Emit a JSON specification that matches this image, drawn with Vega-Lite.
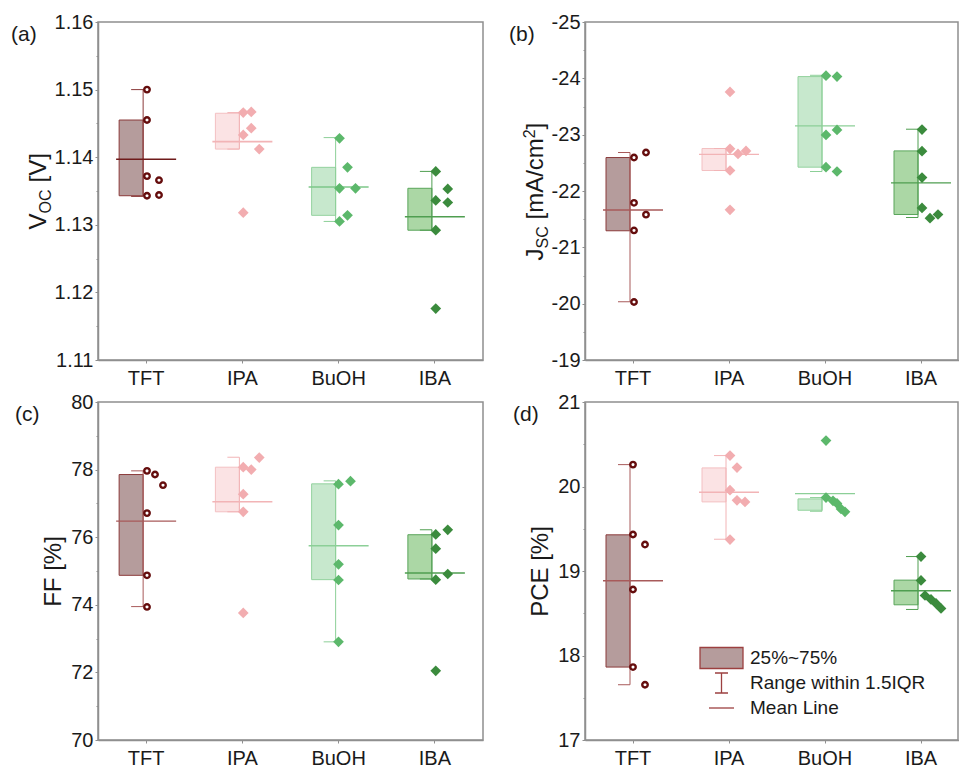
{
  "$schema": "https://vega.github.io/schema/vega-lite/v6.json",
  "padding": {"left": 10, "top": 11, "right": 0, "bottom": 0},
  "columns": 2,
  "spacing": {"row": 42, "column": 102},
  "bounds": "flush",
  "align": "all",
  "resolve": {"legend": {"shape": "independent"}},
  "datasets": {
    "stats": [
      {"panel": "a", "solvent": "TFT", "box_lo": 1.1343, "box_hi": 1.1455, "whisk_lo": 1.1342, "whisk_hi": 1.1500, "mean": 1.1397},
      {"panel": "a", "solvent": "IPA", "box_lo": 1.1412, "box_hi": 1.1465, "whisk_lo": 1.1412, "whisk_hi": 1.1466, "mean": 1.1423},
      {"panel": "a", "solvent": "BuOH", "box_lo": 1.1314, "box_hi": 1.1385, "whisk_lo": 1.1305, "whisk_hi": 1.1429, "mean": 1.1356},
      {"panel": "a", "solvent": "IBA", "box_lo": 1.1292, "box_hi": 1.1354, "whisk_lo": 1.1292, "whisk_hi": 1.1379, "mean": 1.1312},
      {"panel": "b", "solvent": "TFT", "box_lo": -22.594, "box_hi": -21.294, "whisk_lo": -22.683, "whisk_hi": -20.034, "mean": -21.663},
      {"panel": "b", "solvent": "IPA", "box_lo": -22.754, "box_hi": -22.364, "whisk_lo": -22.754, "whisk_hi": -22.364, "mean": -22.651},
      {"panel": "b", "solvent": "BuOH", "box_lo": -24.031, "box_hi": -22.423, "whisk_lo": -24.054, "whisk_hi": -22.346, "mean": -23.156},
      {"panel": "b", "solvent": "IBA", "box_lo": -22.712, "box_hi": -21.583, "whisk_lo": -23.097, "whisk_hi": -21.530, "mean": -22.145},
      {"panel": "c", "solvent": "TFT", "box_lo": 74.872, "box_hi": 77.854, "whisk_lo": 73.947, "whisk_hi": 77.963, "mean": 76.476},
      {"panel": "c", "solvent": "IPA", "box_lo": 76.752, "box_hi": 78.071, "whisk_lo": 76.752, "whisk_hi": 78.366, "mean": 77.047},
      {"panel": "c", "solvent": "BuOH", "box_lo": 74.744, "box_hi": 77.579, "whisk_lo": 72.904, "whisk_hi": 77.667, "mean": 75.748},
      {"panel": "c", "solvent": "IBA", "box_lo": 74.764, "box_hi": 76.073, "whisk_lo": 74.764, "whisk_hi": 76.220, "mean": 74.941},
      {"panel": "d", "solvent": "TFT", "box_lo": 17.863, "box_hi": 19.428, "whisk_lo": 17.654, "whisk_hi": 20.259, "mean": 18.884},
      {"panel": "d", "solvent": "IPA", "box_lo": 19.818, "box_hi": 20.220, "whisk_lo": 19.376, "whisk_hi": 20.366, "mean": 19.932},
      {"panel": "d", "solvent": "BuOH", "box_lo": 19.719, "box_hi": 19.853, "whisk_lo": 19.707, "whisk_hi": 19.869, "mean": 19.916},
      {"panel": "d", "solvent": "IBA", "box_lo": 18.600, "box_hi": 18.892, "whisk_lo": 18.545, "whisk_hi": 19.171, "mean": 18.766}
    ],
    "pts": [
      {"panel": "a", "solvent": "TFT", "value": 1.1500, "jit": 1},
      {"panel": "a", "solvent": "TFT", "value": 1.1455, "jit": 1},
      {"panel": "a", "solvent": "TFT", "value": 1.1372, "jit": 1},
      {"panel": "a", "solvent": "TFT", "value": 1.1366, "jit": 13},
      {"panel": "a", "solvent": "TFT", "value": 1.1343, "jit": 1},
      {"panel": "a", "solvent": "TFT", "value": 1.1344, "jit": 13},
      {"panel": "a", "solvent": "IPA", "value": 1.1466, "jit": 1},
      {"panel": "a", "solvent": "IPA", "value": 1.1467, "jit": 9},
      {"panel": "a", "solvent": "IPA", "value": 1.1443, "jit": 9},
      {"panel": "a", "solvent": "IPA", "value": 1.1433, "jit": 1},
      {"panel": "a", "solvent": "IPA", "value": 1.1412, "jit": 17},
      {"panel": "a", "solvent": "IPA", "value": 1.1318, "jit": 1},
      {"panel": "a", "solvent": "BuOH", "value": 1.1428, "jit": 1},
      {"panel": "a", "solvent": "BuOH", "value": 1.1385, "jit": 9},
      {"panel": "a", "solvent": "BuOH", "value": 1.1354, "jit": 1},
      {"panel": "a", "solvent": "BuOH", "value": 1.1354, "jit": 17},
      {"panel": "a", "solvent": "BuOH", "value": 1.1314, "jit": 9},
      {"panel": "a", "solvent": "BuOH", "value": 1.1305, "jit": 1},
      {"panel": "a", "solvent": "IBA", "value": 1.1379, "jit": 1},
      {"panel": "a", "solvent": "IBA", "value": 1.1353, "jit": 13},
      {"panel": "a", "solvent": "IBA", "value": 1.1336, "jit": 1},
      {"panel": "a", "solvent": "IBA", "value": 1.1333, "jit": 13},
      {"panel": "a", "solvent": "IBA", "value": 1.1292, "jit": 1},
      {"panel": "a", "solvent": "IBA", "value": 1.1176, "jit": 1},
      {"panel": "b", "solvent": "TFT", "value": -22.594, "jit": 1},
      {"panel": "b", "solvent": "TFT", "value": -22.683, "jit": 13},
      {"panel": "b", "solvent": "TFT", "value": -21.79, "jit": 1},
      {"panel": "b", "solvent": "TFT", "value": -21.58, "jit": 13},
      {"panel": "b", "solvent": "TFT", "value": -21.30, "jit": 1},
      {"panel": "b", "solvent": "TFT", "value": -20.03, "jit": 1},
      {"panel": "b", "solvent": "IPA", "value": -23.759, "jit": 1},
      {"panel": "b", "solvent": "IPA", "value": -22.748, "jit": 1},
      {"panel": "b", "solvent": "IPA", "value": -22.659, "jit": 9},
      {"panel": "b", "solvent": "IPA", "value": -22.712, "jit": 17},
      {"panel": "b", "solvent": "IPA", "value": -22.364, "jit": 1},
      {"panel": "b", "solvent": "IPA", "value": -21.666, "jit": 1},
      {"panel": "b", "solvent": "BuOH", "value": -24.048, "jit": 1},
      {"panel": "b", "solvent": "BuOH", "value": -24.031, "jit": 12},
      {"panel": "b", "solvent": "BuOH", "value": -22.996, "jit": 1},
      {"panel": "b", "solvent": "BuOH", "value": -23.085, "jit": 12},
      {"panel": "b", "solvent": "BuOH", "value": -22.423, "jit": 1},
      {"panel": "b", "solvent": "BuOH", "value": -22.346, "jit": 12},
      {"panel": "b", "solvent": "IBA", "value": -23.091, "jit": 1},
      {"panel": "b", "solvent": "IBA", "value": -22.706, "jit": 1},
      {"panel": "b", "solvent": "IBA", "value": -22.239, "jit": 1},
      {"panel": "b", "solvent": "IBA", "value": -21.70, "jit": 1},
      {"panel": "b", "solvent": "IBA", "value": -21.518, "jit": 9},
      {"panel": "b", "solvent": "IBA", "value": -21.583, "jit": 17},
      {"panel": "c", "solvent": "TFT", "value": 77.963, "jit": 1},
      {"panel": "c", "solvent": "TFT", "value": 77.854, "jit": 9},
      {"panel": "c", "solvent": "TFT", "value": 77.539, "jit": 17},
      {"panel": "c", "solvent": "TFT", "value": 76.713, "jit": 1},
      {"panel": "c", "solvent": "TFT", "value": 74.872, "jit": 1},
      {"panel": "c", "solvent": "TFT", "value": 73.937, "jit": 1},
      {"panel": "c", "solvent": "IPA", "value": 78.071, "jit": 1},
      {"panel": "c", "solvent": "IPA", "value": 78.002, "jit": 9},
      {"panel": "c", "solvent": "IPA", "value": 78.356, "jit": 17},
      {"panel": "c", "solvent": "IPA", "value": 77.274, "jit": 1},
      {"panel": "c", "solvent": "IPA", "value": 76.752, "jit": 1},
      {"panel": "c", "solvent": "IPA", "value": 73.76, "jit": 1},
      {"panel": "c", "solvent": "BuOH", "value": 77.569, "jit": 0},
      {"panel": "c", "solvent": "BuOH", "value": 77.657, "jit": 12},
      {"panel": "c", "solvent": "BuOH", "value": 76.358, "jit": 0},
      {"panel": "c", "solvent": "BuOH", "value": 75.197, "jit": 0},
      {"panel": "c", "solvent": "BuOH", "value": 74.734, "jit": 0},
      {"panel": "c", "solvent": "BuOH", "value": 72.904, "jit": 0},
      {"panel": "c", "solvent": "IBA", "value": 76.083, "jit": 1},
      {"panel": "c", "solvent": "IBA", "value": 76.22, "jit": 13},
      {"panel": "c", "solvent": "IBA", "value": 75.659, "jit": 1},
      {"panel": "c", "solvent": "IBA", "value": 74.911, "jit": 13},
      {"panel": "c", "solvent": "IBA", "value": 74.744, "jit": 1},
      {"panel": "c", "solvent": "IBA", "value": 72.047, "jit": 1},
      {"panel": "d", "solvent": "TFT", "value": 20.259, "jit": 0},
      {"panel": "d", "solvent": "TFT", "value": 19.432, "jit": 0},
      {"panel": "d", "solvent": "TFT", "value": 19.313, "jit": 12},
      {"panel": "d", "solvent": "TFT", "value": 18.781, "jit": 0},
      {"panel": "d", "solvent": "TFT", "value": 17.863, "jit": 0},
      {"panel": "d", "solvent": "TFT", "value": 17.654, "jit": 12},
      {"panel": "d", "solvent": "IPA", "value": 20.366, "jit": 1},
      {"panel": "d", "solvent": "IPA", "value": 20.224, "jit": 8},
      {"panel": "d", "solvent": "IPA", "value": 19.956, "jit": 1},
      {"panel": "d", "solvent": "IPA", "value": 19.837, "jit": 8},
      {"panel": "d", "solvent": "IPA", "value": 19.818, "jit": 16},
      {"panel": "d", "solvent": "IPA", "value": 19.372, "jit": 1},
      {"panel": "d", "solvent": "BuOH", "value": 20.543, "jit": 1},
      {"panel": "d", "solvent": "BuOH", "value": 19.869, "jit": 1},
      {"panel": "d", "solvent": "BuOH", "value": 19.83, "jit": 8},
      {"panel": "d", "solvent": "BuOH", "value": 19.80, "jit": 12},
      {"panel": "d", "solvent": "BuOH", "value": 19.735, "jit": 16},
      {"panel": "d", "solvent": "BuOH", "value": 19.70, "jit": 20},
      {"panel": "d", "solvent": "IBA", "value": 19.171, "jit": 0},
      {"panel": "d", "solvent": "IBA", "value": 18.888, "jit": 0},
      {"panel": "d", "solvent": "IBA", "value": 18.710, "jit": 4},
      {"panel": "d", "solvent": "IBA", "value": 18.663, "jit": 10},
      {"panel": "d", "solvent": "IBA", "value": 18.616, "jit": 15},
      {"panel": "d", "solvent": "IBA", "value": 18.557, "jit": 20}
    ],
    "legend": [
      {"item": "25%~75%"},
      {"item": "Range within 1.5IQR"},
      {"item": "Mean Line"}
    ]
  },
  "concat": [
    {
      "width": 385, "height": 338,
      "title": {"text": "(a)", "dx": -87},
      "resolve": {"scale": {"color": "independent"}, "axis": {"y": "independent"}},
      "layer": [
        {
          "data": {"name": "stats"}, "transform": [{"filter": "datum.panel === 'a'"}],
          "mark": {"type": "bar", "width": 24, "xOffset": -15, "strokeWidth": 1},
          "encoding": {
            "x": {"field": "solvent", "type": "nominal", "scale": {"type": "band", "domain": ["TFT", "IPA", "BuOH", "IBA"], "paddingInner": 0, "paddingOuter": 0}, "axis": {"title": null, "labelAngle": 0, "tickSize": 3, "labelPadding": 5}},
            "y": {"field": "box_lo", "type": "quantitative", "scale": {"domain": [1.11, 1.16], "nice": false, "zero": false},
              "axis": {"orient": "left", "title": "V", "titleX": -53, "titleY": 207, "titleAlign": "left", "titleBaseline": "alphabetic", "titleAngle": 270,
                "values": [1.11, 1.115, 1.12, 1.125, 1.13, 1.135, 1.14, 1.145, 1.15, 1.155, 1.16],
                "labelExpr": "abs(datum.value*100 - round(datum.value*100)) > 0.1 ? '' : format(datum.value, '.2f')",
                "tickSize": {"condition": {"test": "abs(datum.value*100 - round(datum.value*100)) > 0.1", "value": 2}, "value": 3},
                "labelPadding": 2}},
            "y2": {"field": "box_hi"},
            "color": {"field": "solvent", "type": "nominal", "scale": {"domain": ["TFT", "IPA", "BuOH", "IBA"], "range": ["#b59c9c", "#fbe3e4", "#c7e8cd", "#abd7a5"]}, "legend": null},
            "stroke": {"field": "solvent", "type": "nominal", "scale": {"domain": ["TFT", "IPA", "BuOH", "IBA"], "range": ["#8b3a3a", "#f3c0c2", "#93d29e", "#5aa55b"]}, "legend": null}
          }
        },
        {
          "data": {"name": "stats"}, "transform": [{"filter": "datum.panel === 'a'"}],
          "mark": {"type": "rule", "xOffset": -3, "strokeWidth": 1},
          "encoding": {
            "x": {"field": "solvent", "type": "nominal", "scale": {"type": "band", "domain": ["TFT", "IPA", "BuOH", "IBA"], "paddingInner": 0, "paddingOuter": 0}, "axis": {"title": null, "labelAngle": 0, "tickSize": 3, "labelPadding": 5}},
            "y": {"field": "whisk_lo", "type": "quantitative", "scale": {"domain": [1.11, 1.16], "nice": false, "zero": false},
              "axis": {"orient": "left", "labels": false, "ticks": false, "domain": false, "grid": false, "title": "OC", "titleFontSize": 16, "titleX": -48, "titleY": 191, "titleAlign": "left", "titleBaseline": "alphabetic", "titleAngle": 270}},
            "y2": {"field": "whisk_hi"},
            "color": {"field": "solvent", "type": "nominal", "scale": {"domain": ["TFT", "IPA", "BuOH", "IBA"], "range": ["#8b3a3a", "#f2b4b6", "#8ccf97", "#4f9e50"]}, "legend": null}
          }
        },
        {
          "data": {"name": "stats"}, "transform": [{"filter": "datum.panel === 'a'"}],
          "mark": {"type": "tick", "size": 12, "thickness": 1, "xOffset": -9, "opacity": 1},
          "encoding": {
            "x": {"field": "solvent", "type": "nominal", "scale": {"type": "band", "domain": ["TFT", "IPA", "BuOH", "IBA"], "paddingInner": 0, "paddingOuter": 0}, "axis": {"title": null, "labelAngle": 0, "tickSize": 3, "labelPadding": 5}},
            "y": {"field": "whisk_hi", "type": "quantitative", "scale": {"domain": [1.11, 1.16], "nice": false, "zero": false},
              "axis": {"orient": "left", "labels": false, "ticks": false, "domain": false, "grid": false, "title": "[V]", "titleX": -53, "titleY": 160, "titleAlign": "left", "titleBaseline": "alphabetic", "titleAngle": 270}},
            "color": {"field": "solvent", "type": "nominal", "scale": {"domain": ["TFT", "IPA", "BuOH", "IBA"], "range": ["#8b3a3a", "#f2b4b6", "#8ccf97", "#4f9e50"]}, "legend": null}
          }
        },
        {
          "data": {"name": "stats"}, "transform": [{"filter": "datum.panel === 'a'"}],
          "mark": {"type": "tick", "size": 12, "thickness": 1, "xOffset": -9, "opacity": 1},
          "encoding": {
            "x": {"field": "solvent", "type": "nominal", "scale": {"type": "band", "domain": ["TFT", "IPA", "BuOH", "IBA"], "paddingInner": 0, "paddingOuter": 0}, "axis": {"title": null, "labelAngle": 0, "tickSize": 3, "labelPadding": 5}},
            "y": {"field": "whisk_lo", "type": "quantitative", "scale": {"domain": [1.11, 1.16], "nice": false, "zero": false}, "axis": null},
            "color": {"field": "solvent", "type": "nominal", "scale": {"domain": ["TFT", "IPA", "BuOH", "IBA"], "range": ["#8b3a3a", "#f2b4b6", "#8ccf97", "#4f9e50"]}, "legend": null}
          }
        },
        {
          "data": {"name": "stats"}, "transform": [{"filter": "datum.panel === 'a'"}],
          "mark": {"type": "tick", "size": 60, "thickness": 1.6, "opacity": 1},
          "encoding": {
            "x": {"field": "solvent", "type": "nominal", "scale": {"type": "band", "domain": ["TFT", "IPA", "BuOH", "IBA"], "paddingInner": 0, "paddingOuter": 0}, "axis": {"title": null, "labelAngle": 0, "tickSize": 3, "labelPadding": 5}},
            "y": {"field": "mean", "type": "quantitative", "scale": {"domain": [1.11, 1.16], "nice": false, "zero": false}, "axis": null},
            "color": {"field": "solvent", "type": "nominal", "scale": {"domain": ["TFT", "IPA", "BuOH", "IBA"], "range": ["#6f1b1b", "#f2b4b6", "#7cc788", "#4f9e50"]}, "legend": null}
          }
        },
        {
          "data": {"name": "pts"}, "transform": [{"filter": "datum.panel === 'a' && datum.solvent !== 'TFT'"}],
          "mark": {"type": "point", "shape": "diamond", "filled": true, "size": 115, "opacity": 1},
          "encoding": {
            "x": {"field": "solvent", "type": "nominal", "scale": {"type": "band", "domain": ["TFT", "IPA", "BuOH", "IBA"], "paddingInner": 0, "paddingOuter": 0}, "axis": {"title": null, "labelAngle": 0, "tickSize": 3, "labelPadding": 5}},
            "xOffset": {"field": "jit", "type": "quantitative", "scale": {"domain": [0, 20], "range": [48, 68]}},
            "y": {"field": "value", "type": "quantitative", "scale": {"domain": [1.11, 1.16], "nice": false, "zero": false}, "axis": null},
            "color": {"field": "solvent", "type": "nominal", "scale": {"domain": ["IPA", "BuOH", "IBA"], "range": ["#f2adb0", "#5cb86b", "#3b8b3d"]}, "legend": null}
          }
        },
        {
          "data": {"name": "pts"}, "transform": [{"filter": "datum.panel === 'a' && datum.solvent === 'TFT'"}],
          "mark": {"type": "point", "shape": "circle", "filled": false, "fill": "white", "stroke": "#650d0d", "strokeWidth": 2.4, "size": 30, "opacity": 1},
          "encoding": {
            "x": {"field": "solvent", "type": "nominal", "scale": {"type": "band", "domain": ["TFT", "IPA", "BuOH", "IBA"], "paddingInner": 0, "paddingOuter": 0}, "axis": {"title": null, "labelAngle": 0, "tickSize": 3, "labelPadding": 5}},
            "xOffset": {"field": "jit", "type": "quantitative", "scale": {"domain": [0, 20], "range": [48, 68]}},
            "y": {"field": "value", "type": "quantitative", "scale": {"domain": [1.11, 1.16], "nice": false, "zero": false}, "axis": null}
          }
        }
      ]
    },
    {
      "width": 373, "height": 338,
      "title": {"text": "(b)", "dx": -76},
      "resolve": {"scale": {"color": "independent"}, "axis": {"y": "independent"}},
      "layer": [
        {
          "data": {"name": "stats"}, "transform": [{"filter": "datum.panel === 'b'"}],
          "mark": {"type": "bar", "width": 24, "xOffset": -15, "strokeWidth": 1},
          "encoding": {
            "x": {"field": "solvent", "type": "nominal", "scale": {"type": "band", "domain": ["TFT", "IPA", "BuOH", "IBA"], "paddingInner": 0, "paddingOuter": 0, "range": [0, 384]}, "axis": {"title": null, "labelAngle": 0, "tickSize": 3, "labelPadding": 5}},
            "y": {"field": "box_lo", "type": "quantitative", "scale": {"domain": [-25, -19], "reverse": true, "nice": false, "zero": false},
              "axis": {"orient": "left", "title": "J", "titleX": -43, "titleY": 238, "titleAlign": "left", "titleBaseline": "alphabetic", "titleAngle": 270,
                "values": [-25, -24.5, -24, -23.5, -23, -22.5, -22, -21.5, -21, -20.5, -20, -19.5, -19],
                "labelExpr": "abs(datum.value - round(datum.value)) > 0.1 ? '' : '' + round(datum.value)",
                "tickSize": {"condition": {"test": "abs(datum.value - round(datum.value)) > 0.1", "value": 2}, "value": 3},
                "labelPadding": 2}},
            "y2": {"field": "box_hi"},
            "color": {"field": "solvent", "type": "nominal", "scale": {"domain": ["TFT", "IPA", "BuOH", "IBA"], "range": ["#b59c9c", "#fbe3e4", "#c7e8cd", "#abd7a5"]}, "legend": null},
            "stroke": {"field": "solvent", "type": "nominal", "scale": {"domain": ["TFT", "IPA", "BuOH", "IBA"], "range": ["#8b3a3a", "#f3c0c2", "#93d29e", "#5aa55b"]}, "legend": null}
          }
        },
        {
          "data": {"name": "stats"}, "transform": [{"filter": "datum.panel === 'b'"}],
          "mark": {"type": "rule", "xOffset": -3, "strokeWidth": 1},
          "encoding": {
            "x": {"field": "solvent", "type": "nominal", "scale": {"type": "band", "domain": ["TFT", "IPA", "BuOH", "IBA"], "paddingInner": 0, "paddingOuter": 0, "range": [0, 384]}, "axis": {"title": null, "labelAngle": 0, "tickSize": 3, "labelPadding": 5}},
            "y": {"field": "whisk_lo", "type": "quantitative", "scale": {"domain": [-25, -19], "reverse": true, "nice": false, "zero": false},
              "axis": {"orient": "left", "labels": false, "ticks": false, "domain": false, "grid": false, "title": "SC", "titleFontSize": 16, "titleX": -38, "titleY": 226, "titleAlign": "left", "titleBaseline": "alphabetic", "titleAngle": 270}},
            "y2": {"field": "whisk_hi"},
            "color": {"field": "solvent", "type": "nominal", "scale": {"domain": ["TFT", "IPA", "BuOH", "IBA"], "range": ["#a85a5a", "#f2b4b6", "#8ccf97", "#4f9e50"]}, "legend": null}
          }
        },
        {
          "data": {"name": "stats"}, "transform": [{"filter": "datum.panel === 'b'"}],
          "mark": {"type": "tick", "size": 12, "thickness": 1, "xOffset": -9, "opacity": 1},
          "encoding": {
            "x": {"field": "solvent", "type": "nominal", "scale": {"type": "band", "domain": ["TFT", "IPA", "BuOH", "IBA"], "paddingInner": 0, "paddingOuter": 0, "range": [0, 384]}, "axis": {"title": null, "labelAngle": 0, "tickSize": 3, "labelPadding": 5}},
            "y": {"field": "whisk_hi", "type": "quantitative", "scale": {"domain": [-25, -19], "reverse": true, "nice": false, "zero": false},
              "axis": {"orient": "left", "labels": false, "ticks": false, "domain": false, "grid": false, "title": "[mA/cm", "titleX": -43, "titleY": 197, "titleAlign": "left", "titleBaseline": "alphabetic", "titleAngle": 270}},
            "color": {"field": "solvent", "type": "nominal", "scale": {"domain": ["TFT", "IPA", "BuOH", "IBA"], "range": ["#a85a5a", "#f2b4b6", "#8ccf97", "#4f9e50"]}, "legend": null}
          }
        },
        {
          "data": {"name": "stats"}, "transform": [{"filter": "datum.panel === 'b'"}],
          "mark": {"type": "tick", "size": 12, "thickness": 1, "xOffset": -9, "opacity": 1},
          "encoding": {
            "x": {"field": "solvent", "type": "nominal", "scale": {"type": "band", "domain": ["TFT", "IPA", "BuOH", "IBA"], "paddingInner": 0, "paddingOuter": 0, "range": [0, 384]}, "axis": {"title": null, "labelAngle": 0, "tickSize": 3, "labelPadding": 5}},
            "y": {"field": "whisk_lo", "type": "quantitative", "scale": {"domain": [-25, -19], "reverse": true, "nice": false, "zero": false},
              "axis": {"orient": "left", "labels": false, "ticks": false, "domain": false, "grid": false, "title": "2", "titleFontSize": 16, "titleX": -51, "titleY": 115.8, "titleAlign": "left", "titleBaseline": "alphabetic", "titleAngle": 270}},
            "color": {"field": "solvent", "type": "nominal", "scale": {"domain": ["TFT", "IPA", "BuOH", "IBA"], "range": ["#a85a5a", "#f2b4b6", "#8ccf97", "#4f9e50"]}, "legend": null}
          }
        },
        {
          "data": {"name": "stats"}, "transform": [{"filter": "datum.panel === 'b'"}],
          "mark": {"type": "tick", "size": 60, "thickness": 1.4, "opacity": 1},
          "encoding": {
            "x": {"field": "solvent", "type": "nominal", "scale": {"type": "band", "domain": ["TFT", "IPA", "BuOH", "IBA"], "paddingInner": 0, "paddingOuter": 0, "range": [0, 384]}, "axis": {"title": null, "labelAngle": 0, "tickSize": 3, "labelPadding": 5}},
            "y": {"field": "mean", "type": "quantitative", "scale": {"domain": [-25, -19], "reverse": true, "nice": false, "zero": false},
              "axis": {"orient": "left", "labels": false, "ticks": false, "domain": false, "grid": false, "title": "]", "titleX": -43, "titleY": 106.9, "titleAlign": "left", "titleBaseline": "alphabetic", "titleAngle": 270}},
            "color": {"field": "solvent", "type": "nominal", "scale": {"domain": ["TFT", "IPA", "BuOH", "IBA"], "range": ["#a85a5a", "#f2b4b6", "#8ccf97", "#4f9e50"]}, "legend": null}
          }
        },
        {
          "data": {"name": "pts"}, "transform": [{"filter": "datum.panel === 'b' && datum.solvent !== 'TFT'"}],
          "mark": {"type": "point", "shape": "diamond", "filled": true, "size": 115, "opacity": 1},
          "encoding": {
            "x": {"field": "solvent", "type": "nominal", "scale": {"type": "band", "domain": ["TFT", "IPA", "BuOH", "IBA"], "paddingInner": 0, "paddingOuter": 0, "range": [0, 384]}, "axis": {"title": null, "labelAngle": 0, "tickSize": 3, "labelPadding": 5}},
            "xOffset": {"field": "jit", "type": "quantitative", "scale": {"domain": [0, 20], "range": [48, 68]}},
            "y": {"field": "value", "type": "quantitative", "scale": {"domain": [-25, -19], "reverse": true, "nice": false, "zero": false}, "axis": null},
            "color": {"field": "solvent", "type": "nominal", "scale": {"domain": ["IPA", "BuOH", "IBA"], "range": ["#f2adb0", "#5cb86b", "#3b8b3d"]}, "legend": null}
          }
        },
        {
          "data": {"name": "pts"}, "transform": [{"filter": "datum.panel === 'b' && datum.solvent === 'TFT'"}],
          "mark": {"type": "point", "shape": "circle", "filled": false, "fill": "white", "stroke": "#650d0d", "strokeWidth": 2.4, "size": 30, "opacity": 1},
          "encoding": {
            "x": {"field": "solvent", "type": "nominal", "scale": {"type": "band", "domain": ["TFT", "IPA", "BuOH", "IBA"], "paddingInner": 0, "paddingOuter": 0, "range": [0, 384]}, "axis": {"title": null, "labelAngle": 0, "tickSize": 3, "labelPadding": 5}},
            "xOffset": {"field": "jit", "type": "quantitative", "scale": {"domain": [0, 20], "range": [48, 68]}},
            "y": {"field": "value", "type": "quantitative", "scale": {"domain": [-25, -19], "reverse": true, "nice": false, "zero": false}, "axis": null}
          }
        }
      ]
    },
    {
      "width": 385, "height": 338,
      "title": {"text": "(c)", "dx": -83},
      "resolve": {"scale": {"color": "independent"}, "axis": {"y": "independent"}},
      "layer": [
        {
          "data": {"name": "stats"}, "transform": [{"filter": "datum.panel === 'c'"}],
          "mark": {"type": "bar", "width": 24, "xOffset": -15, "strokeWidth": 1},
          "encoding": {
            "x": {"field": "solvent", "type": "nominal", "scale": {"type": "band", "domain": ["TFT", "IPA", "BuOH", "IBA"], "paddingInner": 0, "paddingOuter": 0}, "axis": {"title": null, "labelAngle": 0, "tickSize": 3, "labelPadding": 5}},
            "y": {"field": "box_lo", "type": "quantitative", "scale": {"domain": [70, 80], "nice": false, "zero": false},
              "axis": {"orient": "left", "title": "FF [%]", "titlePadding": 5,
                "values": [70, 71, 72, 73, 74, 75, 76, 77, 78, 79, 80],
                "labelExpr": "abs(datum.value % 2) > 0.1 ? '' : '' + round(datum.value)",
                "tickSize": {"condition": {"test": "abs(datum.value % 2) > 0.1", "value": 2}, "value": 3},
                "labelPadding": 2}},
            "y2": {"field": "box_hi"},
            "color": {"field": "solvent", "type": "nominal", "scale": {"domain": ["TFT", "IPA", "BuOH", "IBA"], "range": ["#b59c9c", "#fbe3e4", "#c7e8cd", "#abd7a5"]}, "legend": null},
            "stroke": {"field": "solvent", "type": "nominal", "scale": {"domain": ["TFT", "IPA", "BuOH", "IBA"], "range": ["#8b3a3a", "#f3c0c2", "#93d29e", "#5aa55b"]}, "legend": null}
          }
        },
        {
          "data": {"name": "stats"}, "transform": [{"filter": "datum.panel === 'c'"}],
          "mark": {"type": "rule", "xOffset": -3, "strokeWidth": 1},
          "encoding": {
            "x": {"field": "solvent", "type": "nominal", "scale": {"type": "band", "domain": ["TFT", "IPA", "BuOH", "IBA"], "paddingInner": 0, "paddingOuter": 0}, "axis": {"title": null, "labelAngle": 0, "tickSize": 3, "labelPadding": 5}},
            "y": {"field": "whisk_lo", "type": "quantitative", "scale": {"domain": [70, 80], "nice": false, "zero": false}, "axis": null},
            "y2": {"field": "whisk_hi"},
            "color": {"field": "solvent", "type": "nominal", "scale": {"domain": ["TFT", "IPA", "BuOH", "IBA"], "range": ["#a85a5a", "#f2b4b6", "#8ccf97", "#4f9e50"]}, "legend": null}
          }
        },
        {
          "data": {"name": "stats"}, "transform": [{"filter": "datum.panel === 'c'"}],
          "mark": {"type": "tick", "size": 12, "thickness": 1, "xOffset": -9, "opacity": 1},
          "encoding": {
            "x": {"field": "solvent", "type": "nominal", "scale": {"type": "band", "domain": ["TFT", "IPA", "BuOH", "IBA"], "paddingInner": 0, "paddingOuter": 0}, "axis": {"title": null, "labelAngle": 0, "tickSize": 3, "labelPadding": 5}},
            "y": {"field": "whisk_hi", "type": "quantitative", "scale": {"domain": [70, 80], "nice": false, "zero": false}, "axis": null},
            "color": {"field": "solvent", "type": "nominal", "scale": {"domain": ["TFT", "IPA", "BuOH", "IBA"], "range": ["#a85a5a", "#f2b4b6", "#8ccf97", "#4f9e50"]}, "legend": null}
          }
        },
        {
          "data": {"name": "stats"}, "transform": [{"filter": "datum.panel === 'c'"}],
          "mark": {"type": "tick", "size": 12, "thickness": 1, "xOffset": -9, "opacity": 1},
          "encoding": {
            "x": {"field": "solvent", "type": "nominal", "scale": {"type": "band", "domain": ["TFT", "IPA", "BuOH", "IBA"], "paddingInner": 0, "paddingOuter": 0}, "axis": {"title": null, "labelAngle": 0, "tickSize": 3, "labelPadding": 5}},
            "y": {"field": "whisk_lo", "type": "quantitative", "scale": {"domain": [70, 80], "nice": false, "zero": false}, "axis": null},
            "color": {"field": "solvent", "type": "nominal", "scale": {"domain": ["TFT", "IPA", "BuOH", "IBA"], "range": ["#a85a5a", "#f2b4b6", "#8ccf97", "#4f9e50"]}, "legend": null}
          }
        },
        {
          "data": {"name": "stats"}, "transform": [{"filter": "datum.panel === 'c'"}],
          "mark": {"type": "tick", "size": 60, "thickness": 1.4, "opacity": 1},
          "encoding": {
            "x": {"field": "solvent", "type": "nominal", "scale": {"type": "band", "domain": ["TFT", "IPA", "BuOH", "IBA"], "paddingInner": 0, "paddingOuter": 0}, "axis": {"title": null, "labelAngle": 0, "tickSize": 3, "labelPadding": 5}},
            "y": {"field": "mean", "type": "quantitative", "scale": {"domain": [70, 80], "nice": false, "zero": false}, "axis": null},
            "color": {"field": "solvent", "type": "nominal", "scale": {"domain": ["TFT", "IPA", "BuOH", "IBA"], "range": ["#a85a5a", "#f2b4b6", "#8ccf97", "#4f9e50"]}, "legend": null}
          }
        },
        {
          "data": {"name": "pts"}, "transform": [{"filter": "datum.panel === 'c' && datum.solvent !== 'TFT'"}],
          "mark": {"type": "point", "shape": "diamond", "filled": true, "size": 115, "opacity": 1},
          "encoding": {
            "x": {"field": "solvent", "type": "nominal", "scale": {"type": "band", "domain": ["TFT", "IPA", "BuOH", "IBA"], "paddingInner": 0, "paddingOuter": 0}, "axis": {"title": null, "labelAngle": 0, "tickSize": 3, "labelPadding": 5}},
            "xOffset": {"field": "jit", "type": "quantitative", "scale": {"domain": [0, 20], "range": [48, 68]}},
            "y": {"field": "value", "type": "quantitative", "scale": {"domain": [70, 80], "nice": false, "zero": false}, "axis": null},
            "color": {"field": "solvent", "type": "nominal", "scale": {"domain": ["IPA", "BuOH", "IBA"], "range": ["#f2adb0", "#5cb86b", "#3b8b3d"]}, "legend": null}
          }
        },
        {
          "data": {"name": "pts"}, "transform": [{"filter": "datum.panel === 'c' && datum.solvent === 'TFT'"}],
          "mark": {"type": "point", "shape": "circle", "filled": false, "fill": "white", "stroke": "#650d0d", "strokeWidth": 2.4, "size": 30, "opacity": 1},
          "encoding": {
            "x": {"field": "solvent", "type": "nominal", "scale": {"type": "band", "domain": ["TFT", "IPA", "BuOH", "IBA"], "paddingInner": 0, "paddingOuter": 0}, "axis": {"title": null, "labelAngle": 0, "tickSize": 3, "labelPadding": 5}},
            "xOffset": {"field": "jit", "type": "quantitative", "scale": {"domain": [0, 20], "range": [48, 68]}},
            "y": {"field": "value", "type": "quantitative", "scale": {"domain": [70, 80], "nice": false, "zero": false}, "axis": null}
          }
        }
      ]
    },
    {
      "width": 373, "height": 338,
      "title": {"text": "(d)", "dx": -72},
      "resolve": {"scale": {"color": "independent"}, "axis": {"y": "independent"}},
      "layer": [
        {
          "data": {"name": "stats"}, "transform": [{"filter": "datum.panel === 'd'"}],
          "mark": {"type": "bar", "width": 24, "xOffset": -15, "strokeWidth": 1},
          "encoding": {
            "x": {"field": "solvent", "type": "nominal", "scale": {"type": "band", "domain": ["TFT", "IPA", "BuOH", "IBA"], "paddingInner": 0, "paddingOuter": 0, "range": [0, 384]}, "axis": {"title": null, "labelAngle": 0, "tickSize": 3, "labelPadding": 5}},
            "y": {"field": "box_lo", "type": "quantitative", "scale": {"domain": [17, 21], "nice": false, "zero": false},
              "axis": {"orient": "left", "title": "PCE [%]", "titlePadding": 5,
                "values": [17, 17.5, 18, 18.5, 19, 19.5, 20, 20.5, 21],
                "labelExpr": "abs(datum.value - round(datum.value)) > 0.1 ? '' : '' + round(datum.value)",
                "tickSize": {"condition": {"test": "abs(datum.value - round(datum.value)) > 0.1", "value": 2}, "value": 3},
                "labelPadding": 2}},
            "y2": {"field": "box_hi"},
            "color": {"field": "solvent", "type": "nominal", "scale": {"domain": ["TFT", "IPA", "BuOH", "IBA"], "range": ["#b59c9c", "#fbe3e4", "#c7e8cd", "#abd7a5"]}, "legend": null},
            "stroke": {"field": "solvent", "type": "nominal", "scale": {"domain": ["TFT", "IPA", "BuOH", "IBA"], "range": ["#8b3a3a", "#f3c0c2", "#93d29e", "#5aa55b"]}, "legend": null}
          }
        },
        {
          "data": {"name": "stats"}, "transform": [{"filter": "datum.panel === 'd'"}],
          "mark": {"type": "rule", "xOffset": -3, "strokeWidth": 1},
          "encoding": {
            "x": {"field": "solvent", "type": "nominal", "scale": {"type": "band", "domain": ["TFT", "IPA", "BuOH", "IBA"], "paddingInner": 0, "paddingOuter": 0, "range": [0, 384]}, "axis": {"title": null, "labelAngle": 0, "tickSize": 3, "labelPadding": 5}},
            "y": {"field": "whisk_lo", "type": "quantitative", "scale": {"domain": [17, 21], "nice": false, "zero": false}, "axis": null},
            "y2": {"field": "whisk_hi"},
            "color": {"field": "solvent", "type": "nominal", "scale": {"domain": ["TFT", "IPA", "BuOH", "IBA"], "range": ["#a85a5a", "#f2b4b6", "#8ccf97", "#4f9e50"]}, "legend": null}
          }
        },
        {
          "data": {"name": "stats"}, "transform": [{"filter": "datum.panel === 'd'"}],
          "mark": {"type": "tick", "size": 12, "thickness": 1, "xOffset": -9, "opacity": 1},
          "encoding": {
            "x": {"field": "solvent", "type": "nominal", "scale": {"type": "band", "domain": ["TFT", "IPA", "BuOH", "IBA"], "paddingInner": 0, "paddingOuter": 0, "range": [0, 384]}, "axis": {"title": null, "labelAngle": 0, "tickSize": 3, "labelPadding": 5}},
            "y": {"field": "whisk_hi", "type": "quantitative", "scale": {"domain": [17, 21], "nice": false, "zero": false}, "axis": null},
            "color": {"field": "solvent", "type": "nominal", "scale": {"domain": ["TFT", "IPA", "BuOH", "IBA"], "range": ["#a85a5a", "#f2b4b6", "#8ccf97", "#4f9e50"]}, "legend": null}
          }
        },
        {
          "data": {"name": "stats"}, "transform": [{"filter": "datum.panel === 'd'"}],
          "mark": {"type": "tick", "size": 12, "thickness": 1, "xOffset": -9, "opacity": 1},
          "encoding": {
            "x": {"field": "solvent", "type": "nominal", "scale": {"type": "band", "domain": ["TFT", "IPA", "BuOH", "IBA"], "paddingInner": 0, "paddingOuter": 0, "range": [0, 384]}, "axis": {"title": null, "labelAngle": 0, "tickSize": 3, "labelPadding": 5}},
            "y": {"field": "whisk_lo", "type": "quantitative", "scale": {"domain": [17, 21], "nice": false, "zero": false}, "axis": null},
            "color": {"field": "solvent", "type": "nominal", "scale": {"domain": ["TFT", "IPA", "BuOH", "IBA"], "range": ["#a85a5a", "#f2b4b6", "#8ccf97", "#4f9e50"]}, "legend": null}
          }
        },
        {
          "data": {"name": "stats"}, "transform": [{"filter": "datum.panel === 'd'"}],
          "mark": {"type": "tick", "size": 60, "thickness": 1.4, "opacity": 1},
          "encoding": {
            "x": {"field": "solvent", "type": "nominal", "scale": {"type": "band", "domain": ["TFT", "IPA", "BuOH", "IBA"], "paddingInner": 0, "paddingOuter": 0, "range": [0, 384]}, "axis": {"title": null, "labelAngle": 0, "tickSize": 3, "labelPadding": 5}},
            "y": {"field": "mean", "type": "quantitative", "scale": {"domain": [17, 21], "nice": false, "zero": false}, "axis": null},
            "color": {"field": "solvent", "type": "nominal", "scale": {"domain": ["TFT", "IPA", "BuOH", "IBA"], "range": ["#a85a5a", "#f2b4b6", "#8ccf97", "#4f9e50"]}, "legend": null}
          }
        },
        {
          "data": {"name": "pts"}, "transform": [{"filter": "datum.panel === 'd' && datum.solvent !== 'TFT'"}],
          "mark": {"type": "point", "shape": "diamond", "filled": true, "size": 115, "opacity": 1},
          "encoding": {
            "x": {"field": "solvent", "type": "nominal", "scale": {"type": "band", "domain": ["TFT", "IPA", "BuOH", "IBA"], "paddingInner": 0, "paddingOuter": 0, "range": [0, 384]}, "axis": {"title": null, "labelAngle": 0, "tickSize": 3, "labelPadding": 5}},
            "xOffset": {"field": "jit", "type": "quantitative", "scale": {"domain": [0, 20], "range": [48, 68]}},
            "y": {"field": "value", "type": "quantitative", "scale": {"domain": [17, 21], "nice": false, "zero": false}, "axis": null},
            "color": {"field": "solvent", "type": "nominal", "scale": {"domain": ["IPA", "BuOH", "IBA"], "range": ["#f2adb0", "#5cb86b", "#3b8b3d"]}, "legend": null}
          }
        },
        {
          "data": {"name": "pts"}, "transform": [{"filter": "datum.panel === 'd' && datum.solvent === 'TFT'"}],
          "mark": {"type": "point", "shape": "circle", "filled": false, "fill": "white", "stroke": "#650d0d", "strokeWidth": 2.4, "size": 30, "opacity": 1},
          "encoding": {
            "x": {"field": "solvent", "type": "nominal", "scale": {"type": "band", "domain": ["TFT", "IPA", "BuOH", "IBA"], "paddingInner": 0, "paddingOuter": 0, "range": [0, 384]}, "axis": {"title": null, "labelAngle": 0, "tickSize": 3, "labelPadding": 5}},
            "xOffset": {"field": "jit", "type": "quantitative", "scale": {"domain": [0, 20], "range": [48, 68]}},
            "y": {"field": "value", "type": "quantitative", "scale": {"domain": [17, 21], "nice": false, "zero": false}, "axis": null}
          }
        },
        {
          "data": {"name": "legend"},
          "mark": {"type": "point", "filled": true, "fill": "#b59c9c", "stroke": "#9c4040", "opacity": 0},
          "encoding": {
            "shape": {"field": "item", "type": "nominal",
              "scale": {"domain": ["25%~75%", "Range within 1.5IQR", "Mean Line"], "range": ["M-2.15,-1.05H2.15V1.05H-2.15Z", "M-0.65,-1H0.65M0,-1V1M-0.65,1H0.65", "M-1.25,0H1.25"]},
              "legend": {"title": null, "orient": "none", "legendX": 125.5, "legendY": 245, "symbolSize": 400, "symbolOpacity": 1,
                "labelFontSize": 19, "labelFont": "Liberation Sans", "labelColor": "#1a1a1a", "labelOffset": 17.5, "labelLimit": 0,
                "gridAlign": "all", "rowPadding": -5,
                "encoding": {"symbols": {"stroke": {"value": "#9c4040"}, "strokeWidth": {"value": 1.3}, "fill": {"value": "#b59c9c"}, "opacity": {"value": 1}, "strokeOpacity": {"value": 1}}}}}
          }
        }
      ]
    }
  ],
  "config": {
    "font": "Liberation Sans",
    "view": {"stroke": "#8f8f8f", "strokeWidth": 1.5},
    "axis": {"domainColor": "#8f8f8f", "domainWidth": 1.5, "tickColor": "#8f8f8f", "tickWidth": 1, "grid": false,
      "labelFont": "Liberation Sans", "labelFontSize": 20, "labelColor": "#1a1a1a",
      "titleFont": "Liberation Sans", "titleFontSize": 24, "titleFontWeight": "normal", "titleColor": "#1a1a1a"},
    "title": {"anchor": "start", "frame": "group", "offset": -33, "baseline": "middle", "fontSize": 21, "fontWeight": "normal", "font": "Liberation Sans", "color": "#1a1a1a"}
  }
}
